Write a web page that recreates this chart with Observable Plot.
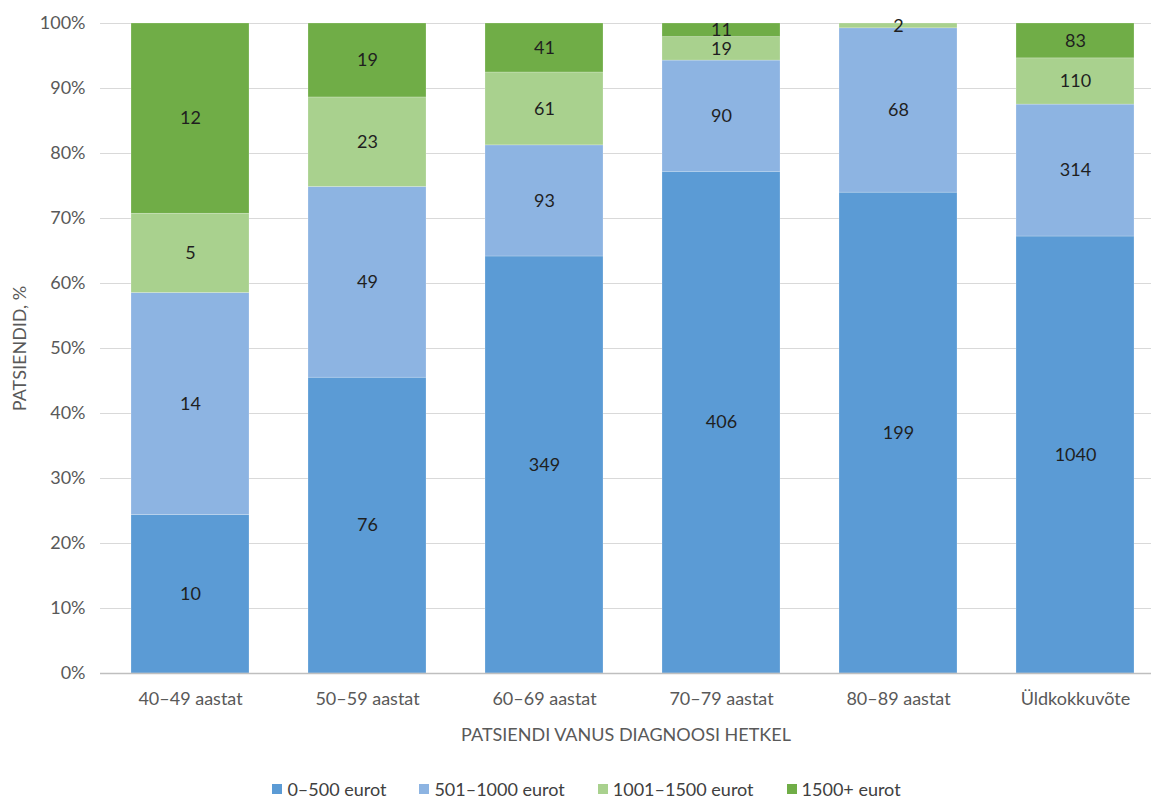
<!DOCTYPE html>
<html>
<head>
<meta charset="utf-8">
<script src="https://cdn.jsdelivr.net/npm/d3@7"></script>
<script src="https://cdn.jsdelivr.net/npm/@observablehq/plot@0.6"></script>
<style>
  html, body { margin: 0; padding: 0; background: #fff; }
  body { position: relative; width: 1151px; height: 798px; overflow: hidden; font-family: Lato, "Open Sans", sans-serif; }
  #chart svg { display: block; overflow: visible; }
  .legend { position: absolute; left: 0; top: 780px; width: 1151px; display: flex; justify-content: center;
            gap: 33px; padding-left: 22px; box-sizing: border-box;
            font-size: 18px; color: #404040; line-height: 18px; }
  .legend span.item { display: inline-flex; align-items: center; gap: 5px; white-space: nowrap; }
  .legend span.sw { width: 10px; height: 10px; display: inline-block; }
</style>
</head>
<body>
<div id="chart"></div>
<script>
// Patient age groups at diagnosis (categories on x)
const ageGroups = ["40–49 aastat", "50–59 aastat", "60–69 aastat", "70–79 aastat", "80–89 aastat", "Üldkokkuvõte"];
// Cost bands (stacked series, bottom to top)
const costBands = ["0–500 eurot", "501–1000 eurot", "1001–1500 eurot", "1500+ eurot"];
const bandColors = ["#5B9BD5", "#8DB4E2", "#A9D18E", "#70AD47"];

// Patient counts per age group for each cost band
const cost0to500    = [10, 76, 349, 406, 199, 1040];
const cost501to1000 = [14, 49, 93, 90, 68, 314];
const cost1001to1500 = [5, 23, 61, 19, 2, 110];
const cost1500plus  = [12, 19, 41, 11, 0, 83];

const yTicks = [0, 0.1, 0.2, 0.3, 0.4, 0.5, 0.6, 0.7, 0.8, 0.9, 1];

const seriesValues = [cost0to500, cost501to1000, cost1001to1500, cost1500plus];
const rows = [];
costBands.forEach((band, i) => {
  ageGroups.forEach((age, j) => {
    rows.push({age, band, count: seriesValues[i][j]});
  });
});

const stackOpts = {offset: "normalize", order: costBands};

const chart = Plot.plot({
  width: 1151,
  height: 760,
  marginTop: 23,
  marginBottom: 87,
  marginLeft: 100,
  marginRight: 0,
  style: {fontFamily: "Lato, 'Open Sans', sans-serif", fontSize: "18px", color: "#595959"},
  x: {domain: ageGroups, range: [100, 1165], paddingInner: 1/3, paddingOuter: 1/6, label: null},
  y: {domain: [0, 1], label: null},
  color: {domain: costBands, range: bandColors},
  marks: [
    Plot.ruleY(yTicks.filter(t => t > 0), {stroke: "#d9d9d9", strokeWidth: 1.2}),
    Plot.barY(rows, Plot.stackY(stackOpts, {
      x: "age", y: "count", z: "band", fill: "band",
      stroke: "#ffffff", strokeOpacity: 0.35, strokeWidth: 0.6
    })),
    Plot.ruleY([0], {stroke: "#bfbfbf", strokeWidth: 1.6}),
    Plot.text(rows, Plot.stackY(stackOpts, {
      x: "age", y: "count", z: "band", text: d => d.count > 0 ? String(d.count) : "",
      fill: "#1f1f1f", fontSize: 18
    })),
    Plot.axisY({
      ticks: yTicks, tickFormat: d3.format(".0%"), tickSize: 0, tickPadding: 15,
      fill: "#595959", fontSize: 18, label: "PATSIENDID, %", labelAnchor: "center", labelArrow: "none",
      labelOffset: 87
    }),
    Plot.axisX({
      tickSize: 0, tickPadding: 19, fill: "#595959", fontSize: 18,
      label: "PATSIENDI VANUS DIAGNOOSI HETKEL", labelAnchor: "center", labelArrow: "none",
      labelOffset: 67
    })
  ]
});

document.getElementById("chart").appendChild(chart);

// Legend below the chart
const legend = document.createElement("div");
legend.className = "legend";
costBands.forEach((band, i) => {
  const item = document.createElement("span");
  item.className = "item";
  const sw = document.createElement("span");
  sw.className = "sw";
  sw.style.background = bandColors[i];
  item.appendChild(sw);
  item.appendChild(document.createTextNode(band));
  legend.appendChild(item);
});
document.body.appendChild(legend);
</script>
</body>
</html>
